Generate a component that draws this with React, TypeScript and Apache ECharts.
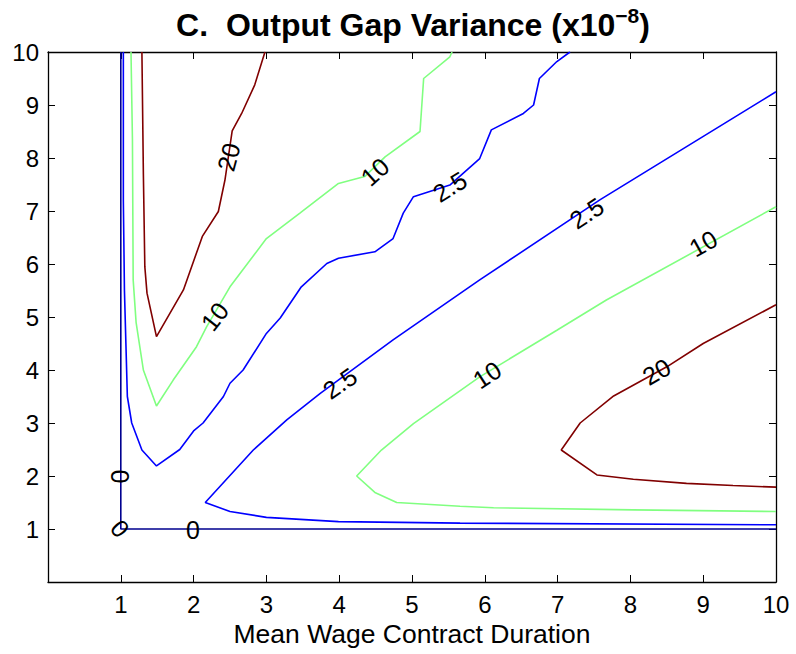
import React, { useEffect, useRef } from "react";
import * as echarts from "echarts";

// Axis tick labels
const xTickLabels = ["1", "2", "3", "4", "5", "6", "7", "8", "9", "10"];
const yTickLabels = ["1", "2", "3", "4", "5", "6", "7", "8", "9", "10"];

// Contour level 0 (L-shaped)
const level0: [number, number][] = [
  [1, 10], [1, 1], [10, 1],
];

// Contour level 2.5 (upper-left branch)
const level25Upper: [number, number][] = [
  [1.035, 10], [1.035, 7.2], [1.05, 5.5], [1.07, 4.5], [1.09, 3.5], [1.15, 3.0],
  [1.29, 2.49], [1.49, 2.19], [1.81, 2.5], [2.0, 2.85], [2.13, 3.0], [2.41, 3.5],
  [2.5, 3.75], [2.68, 4.0], [3.0, 4.69], [3.19, 4.98], [3.48, 5.57], [3.83, 6.01],
  [3.99, 6.11], [4.49, 6.23], [4.74, 6.48], [4.88, 6.96], [5.02, 7.27], [5.52, 7.49],
  [5.93, 7.99], [6.09, 8.53], [6.53, 8.84], [6.67, 9.0], [6.75, 9.5], [6.99, 9.82],
  [7.17, 10],
];

// Contour level 10 (upper-left branch)
const level10Upper: [number, number][] = [
  [1.14, 10], [1.16, 8.34], [1.17, 5.7], [1.21, 4.9], [1.31, 4.0], [1.49, 3.32],
  [1.72, 3.81], [2.04, 4.44], [2.18, 4.82], [2.5, 5.57], [3.0, 6.48], [3.46, 6.96],
  [3.99, 7.52], [4.35, 7.65], [4.63, 8.02], [5.11, 8.5], [5.16, 9.5], [5.52, 9.91],
  [5.55, 10],
];

// Contour level 20 (upper-left branch)
const level20Upper: [number, number][] = [
  [1.29, 10], [1.31, 7.71], [1.33, 5.95], [1.36, 5.45], [1.49, 4.63], [1.86, 5.51],
  [2.12, 6.52], [2.34, 6.99], [2.43, 7.58], [2.53, 8.51], [2.66, 8.84], [2.84, 9.38],
  [2.98, 10],
];

// Contour level 2.5 (lower-right branch)
const level25Lower: [number, number][] = [
  [10, 9.25], [7.58, 7.21], [5.93, 5.7], [4.74, 4.57], [3.74, 3.56], [3.28, 3.06],
  [2.82, 2.49], [2.16, 1.5], [2.5, 1.33], [3.0, 1.22], [3.99, 1.14], [5.66, 1.11],
  [10, 1.08],
];

// Contour level 10 (lower-right branch)
const level10Lower: [number, number][] = [
  [10, 7.08], [7.67, 5.32], [6.99, 4.75], [5.93, 3.87], [5.02, 2.99], [4.58, 2.49],
  [4.24, 2.0], [4.49, 1.69], [4.79, 1.5], [5.66, 1.43], [6.12, 1.4], [8.04, 1.36],
  [10, 1.33],
];

// Contour level 20 (lower-right branch)
const level20Lower: [number, number][] = [
  [10, 5.23], [9.0, 4.5], [8.5, 4.06], [7.77, 3.51], [7.31, 3.0], [7.05, 2.49],
  [7.54, 2.02], [8.04, 1.94], [8.77, 1.86], [9.41, 1.82], [10, 1.79],
];

// Contour labels (text, data position, rotation along the line)
const labelTexts = ["20", "10", "2.5", "2.5", "10", "10", "20", "10", "2.5", "0", "0", "0"];
const labelX = [2.48, 4.49, 5.52, 7.4, 9.0, 6.03, 8.36, 2.29, 4.01, 0.99, 0.99, 1.99];
const labelY = [8.02, 7.74, 7.46, 6.96, 6.39, 3.91, 3.97, 5.01, 3.75, 1.99, 1.01, 0.98];
const labelAngles = [75, 42, 32, 33, 29, 33, 30, 52, 35, 90, -50, 0];

const FONT = "'Liberation Sans', Arial, Helvetica, sans-serif";

const COLORS: Record<string, string> = {
  "0": "#00008F",
  "2.5": "#0000FF",
  "10": "#80FF80",
  "20": "#800000",
};

export default function App() {
  const ref = useRef<HTMLDivElement | null>(null);

  useEffect(() => {
    if (!ref.current) return;
    const chart = echarts.init(ref.current, undefined, { renderer: "svg" });

    const lineSeries = (data: [number, number][], level: string) => ({
      type: "line",
      data,
      showSymbol: false,
      symbol: "none",
      silent: true,
      lineStyle: { color: COLORS[level], width: 1.6 },
      z: 2,
    });

    const tickFmt = (labels: string[]) => (v: number) => {
      const i = Math.round(v) - 1;
      return i >= 0 && i < labels.length ? labels[i] : "";
    };

    const option: any = {
      animation: false,
      backgroundColor: "#ffffff",
      grid: { left: 48, right: 20, top: 52, bottom: 72, containLabel: false },
      graphic: [
        {
          type: "text",
          x: 413,
          y: 5,
          style: {
            text: "{a|C.  Output Gap Variance (x10}{b|\u22128}{a|)}",
            align: "center",
            verticalAlign: "top",
            rich: {
              a: {
                fontFamily: FONT,
                fontSize: 32,
                fontWeight: "bold",
                lineHeight: 39,
                fill: "#000",
                color: "#000",
              },
              b: {
                fontFamily: FONT,
                fontSize: 21,
                fontWeight: "bold",
                lineHeight: 21,
                verticalAlign: "top",
                fill: "#000",
                color: "#000",
              },
            },
          },
        },
      ],
      xAxis: [
        {
          type: "value",
          min: 0,
          max: 10,
          interval: 1,
          position: "bottom",
          name: "Mean Wage Contract Duration",
          nameLocation: "middle",
          nameGap: 34,
          nameTextStyle: { fontFamily: FONT, fontSize: 26.5, color: "#000" },
          axisLine: { show: true, onZero: false, lineStyle: { color: "#000", width: 1.3 } },
          axisTick: { show: true, inside: true, length: 7, lineStyle: { color: "#000" } },
          axisLabel: {
            show: true,
            margin: 10,
            fontFamily: FONT,
            fontSize: 24,
            color: "#000",
            formatter: tickFmt(xTickLabels),
          },
          splitLine: { show: false },
        },
        {
          type: "value",
          min: 0,
          max: 10,
          interval: 1,
          position: "top",
          axisLine: { show: true, onZero: false, lineStyle: { color: "#000", width: 1.3 } },
          axisTick: { show: true, inside: true, length: 7, lineStyle: { color: "#000" } },
          axisLabel: { show: false },
          splitLine: { show: false },
        },
      ],
      yAxis: [
        {
          type: "value",
          min: 0,
          max: 10,
          interval: 1,
          position: "left",
          axisLine: { show: true, onZero: false, lineStyle: { color: "#000", width: 1.3 } },
          axisTick: { show: true, inside: true, length: 7, lineStyle: { color: "#000" } },
          axisLabel: {
            show: true,
            margin: 9,
            fontFamily: FONT,
            fontSize: 24,
            color: "#000",
            formatter: tickFmt(yTickLabels),
          },
          splitLine: { show: false },
        },
        {
          type: "value",
          min: 0,
          max: 10,
          interval: 1,
          position: "right",
          axisLine: { show: true, onZero: false, lineStyle: { color: "#000", width: 1.3 } },
          axisTick: { show: true, inside: true, length: 7, lineStyle: { color: "#000" } },
          axisLabel: { show: false },
          splitLine: { show: false },
        },
      ],
      series: [
        lineSeries(level0, "0"),
        lineSeries(level25Upper, "2.5"),
        lineSeries(level10Upper, "10"),
        lineSeries(level20Upper, "20"),
        lineSeries(level25Lower, "2.5"),
        lineSeries(level10Lower, "10"),
        lineSeries(level20Lower, "20"),
        {
          type: "scatter",
          symbolSize: 1,
          silent: true,
          itemStyle: { color: "rgba(0,0,0,0)" },
          z: 5,
          data: labelTexts.map((t, i) => ({
            value: [labelX[i], labelY[i]],
            label: {
              show: true,
              position: "inside",
              formatter: t,
              rotate: labelAngles[i],
              align: "center",
              verticalAlign: "middle",
              fontFamily: FONT,
              fontSize: 25,
              color: "#000",
              opacity: 1,
              textBorderWidth: 0,
              textBorderColor: "transparent",
            },
          })),
        },
      ],
    };

    chart.setOption(option);
    return () => chart.dispose();
  }, []);

  return (
    <div
      ref={ref}
      style={{ position: "fixed", left: 0, top: 0, width: 796, height: 654, background: "#fff" }}
    />
  );
}
